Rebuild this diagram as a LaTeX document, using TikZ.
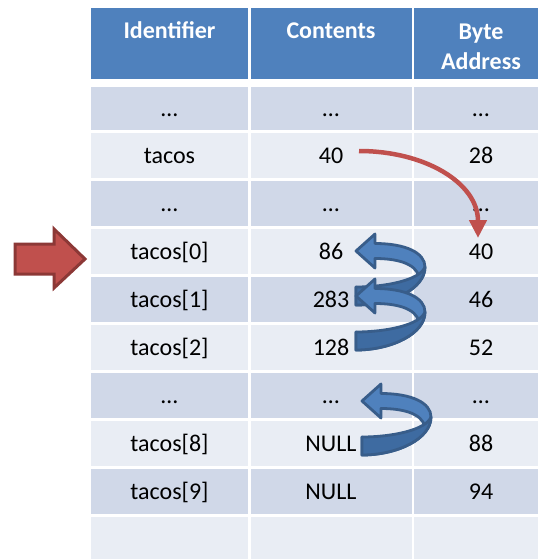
\documentclass[tikz,border=0pt]{standalone}
\usepackage{fontspec}
\setmainfont{Carlito}
\usetikzlibrary{arrows.meta}
\definecolor{hdr}{HTML}{4F81BD}
\definecolor{rowA}{HTML}{D0D8E8}
\definecolor{rowB}{HTML}{E9EDF4}
\definecolor{redf}{HTML}{C0504D}
\definecolor{redd}{HTML}{8C3836}
\definecolor{bluef}{HTML}{4F81BD}
\definecolor{blued}{HTML}{385D8A}
\definecolor{bluefront}{HTML}{3E6BA1}
\begin{document}
\begin{tikzpicture}[x=1pt,y=-1pt,
  txt/.style={inner sep=0pt, anchor=base, font=\fontsize{24}{29}\selectfont},
  hd/.style={inner sep=0pt, anchor=base, align=center, text=white, font=\fontsize{24}{29.5}\selectfont\bfseries},
  bandborder/.style={draw=blued, line width=2.8pt, line join=round},
  curvarrow/.pic={
    \filldraw[bandborder, fill=bluef]
      (0,0) -- (19,-17) -- (19,-7.5)
      .. controls (50,-7.5) and (69,2) .. (69,16)
      .. controls (69,38) and (35,54) .. (0,54)
      -- (0,36) -- (4,38)
      .. controls (30,38) and (58,31) .. (63,26)
      .. controls (60,12) and (40,7.5) .. (19,7.5)
      -- (19,17) -- cycle;
    \filldraw[bandborder, fill=bluefront]
      (0,36) -- (0,54)
      .. controls (35,54) and (69,38) .. (69,16)
      .. controls (64,29) and (30,36) .. (0,36) -- cycle;
  }]
\useasboundingbox (0,0) rectangle (538,559);
\fill[white] (0,0) rectangle (538,559);
% header
\fill[hdr] (90.6,8) rectangle (248,79);
\fill[hdr] (251,8) rectangle (411.5,79);
\fill[hdr] (414,8) rectangle (538,79);
\node[hd] (h1) at (169.5,39) {Identifier};
\node[hd] (h2) at (331,39) {Contents};
\node[hd, anchor=north] (h3) at (481,24) {Byte\\Address};
% body rows
\foreach \i/\t/\b/\c/\ida/\cont/\addr in {
  1/87/130/rowA/…/…/…,
  2/133/178/rowB/tacos/40/28,
  3/181/226/rowA/…/…/…,
  4/229/274/rowB/tacos[0]/86/40,
  5/277/322/rowA/tacos[1]/283/46,
  6/325/370/rowB/tacos[2]/128/52,
  7/373/418/rowA/…/…/…,
  8/421/466/rowB/tacos[8]/NULL/88,
  9/469/514/rowA/tacos[9]/NULL/94}{
  \fill[\c] (90.6,\t) rectangle (248,\b);
  \fill[\c] (251,\t) rectangle (411.5,\b);
  \fill[\c] (414,\t) rectangle (538,\b);
  \node[txt] (id\i) at (169.5,{(\t+\b)/2+8}) {\ida};
  \node[txt] (ct\i) at (331,{(\t+\b)/2+8}) {\cont};
  \node[txt] (ad\i) at (481,{(\t+\b)/2+8}) {\addr};
}
\fill[rowB] (90.6,517) rectangle (248,559);
\fill[rowB] (251,517) rectangle (411.5,559);
\fill[rowB] (414,517) rectangle (538,559);
% left red block arrow
\filldraw[fill=redf, draw=redd, line width=3pt, line join=miter]
  (15,244) -- (54,244) -- (54,229) -- (85,259) -- (54,288) -- (54,274) -- (15,274) -- cycle;
% red curved pointer arrow
\coordinate (rs) at (359,151);
\coordinate (re) at (478,238);
\draw[redf, line width=4.5pt, -{Triangle[length=18pt,width=17pt]}]
  (rs) .. controls (425,151) and (478,183) .. (re);
% blue curved arrows
\pic at (356,251) {curvarrow};
\pic at (356,296) {curvarrow};
\pic at (362,401) {curvarrow};
\end{tikzpicture}
\end{document}
